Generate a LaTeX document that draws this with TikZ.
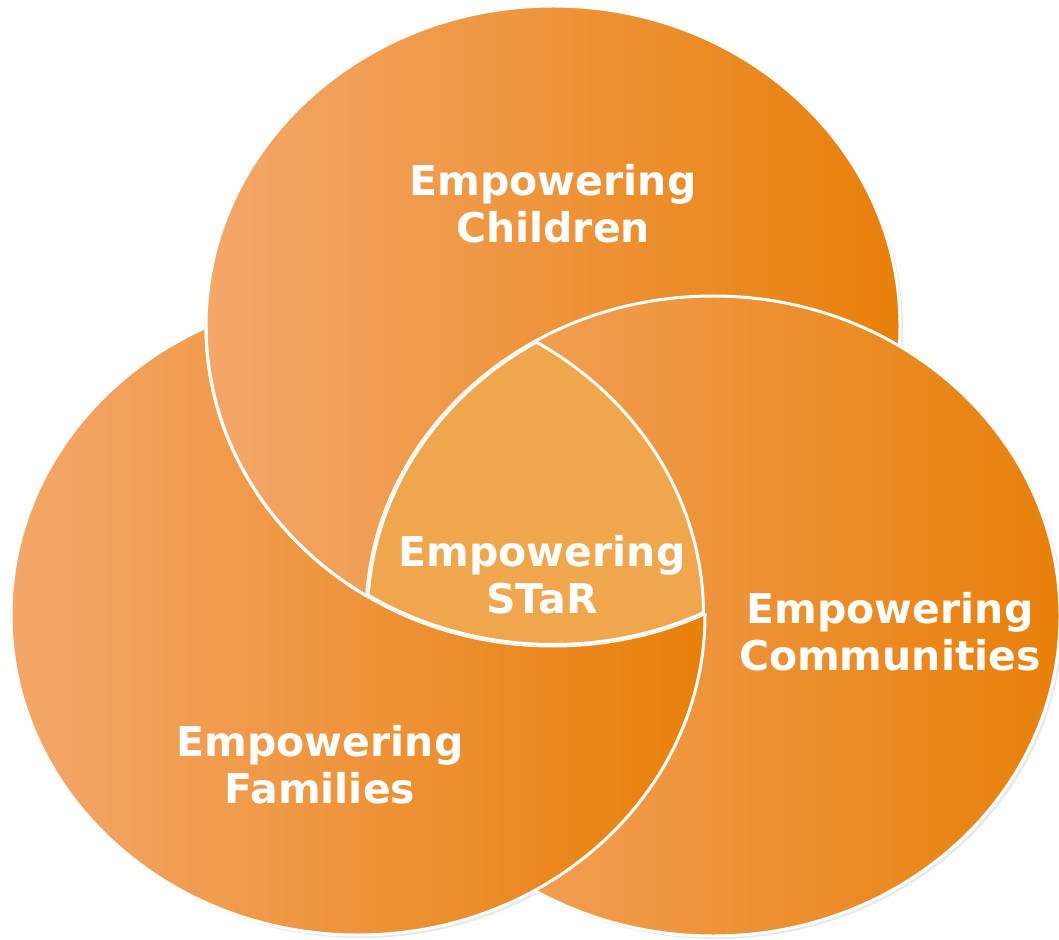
\documentclass[tikz,border=0pt]{standalone}
\usepackage{fontspec}
\setmainfont{DejaVu Sans}
\usetikzlibrary{shapes.geometric,shadows}

\definecolor{petalLight}{HTML}{F4A76A}
\definecolor{petalDark}{HTML}{E8800A}
\definecolor{starFill}{HTML}{EFA64C}

\tikzset{
    petalsize/.style={x radius=173.5pt, y radius=160pt},
    petalwide/.style={x radius=175pt, y radius=161.5pt},
    petalshade/.style={left color=petalLight, right color=petalDark},
    petal/.style={ellipse, minimum width=347pt, minimum height=320pt,
        inner sep=0pt, outer sep=0pt, petalshade, draw=white, line width=1.5pt,
        drop shadow={opacity=0.18, shadow xshift=1.5pt, shadow yshift=-1.5pt}},
    lbltext/.style={text=white, align=center,
        font=\bfseries\fontsize{20.5}{23.5}\selectfont}
}

\begin{document}
\begin{tikzpicture}[x=0.5pt,y=-0.5pt]
    \useasboundingbox (0,0) rectangle (1059,940);

    % the three circles, cyclic overlap
    \node [petal] (families) at (358,615) {};
    \node [petal] (children) at (553,326) {};
    \node [petal] (communities) at (713,616) {};

    % families lies over communities
    \begin{scope}[even odd rule]
        \clip (communities.center) ellipse [petalwide];
        \clip (0,0) rectangle (1059,940)
            (children.center) ellipse [petalsize];
        \path [nonzero rule, petalshade, draw=white, line width=1.5pt]
            (families.center) ellipse [petalsize];
    \end{scope}
    \begin{scope}
        \clip (families.center) ellipse [petalsize];
        \draw [white, line width=1.5pt] (children.center) ellipse [petalsize];
    \end{scope}

    % common part in the middle
    \begin{scope}
        \clip (children.center) ellipse [petalsize];
        \clip (families.center) ellipse [petalsize];
        \clip (communities.center) ellipse [petalsize];
        \fill [starFill] (0,0) rectangle (1059,940);
        \draw [white, line width=3pt]
            (children.center) ellipse [petalsize]
            (families.center) ellipse [petalsize]
            (communities.center) ellipse [petalsize];
    \end{scope}

    \node [lbltext] (childrenlbl) at (553,204) {Empowering\\Children};
    \node [lbltext] (starlbl) at (542,575) {Empowering\\STaR};
    \node [lbltext] (communitieslbl) at (890,632) {Empowering\\Communities};
    \node [lbltext] (familieslbl) at (320,765) {Empowering\\Families};
\end{tikzpicture}
\end{document}
